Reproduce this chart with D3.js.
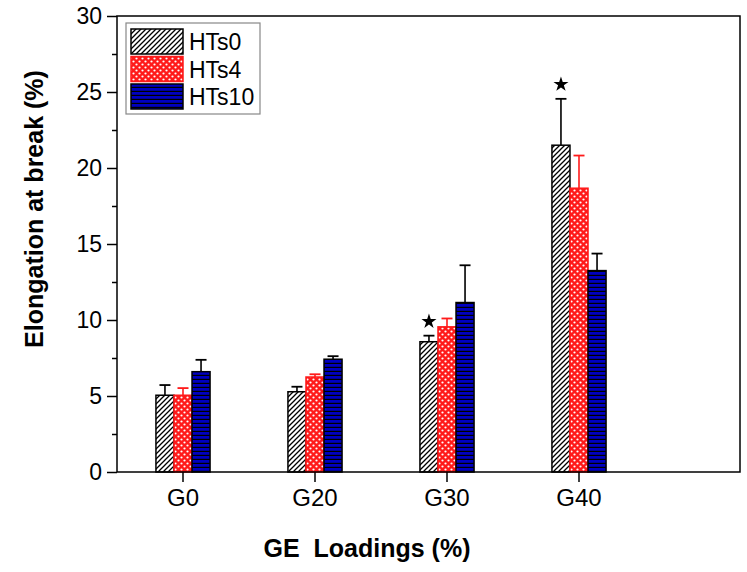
<!DOCTYPE html>
<html>
<head>
<meta charset="utf-8">
<script src="https://cdn.jsdelivr.net/npm/d3@7"></script>
<style>
body { margin: 0; background: #fff; }
svg { display: block; font-family: "Liberation Sans", Arial, sans-serif; }
</style>
</head>
<body>
<svg id="chart" width="747" height="572"></svg>
<script>
const categories = ["G0", "G20", "G30", "G40"];
const seriesNames = ["HTs0", "HTs4", "HTs10"];
const HTs0 = [5.05, 5.28, 8.57, 21.5];
const HTs0Err = [0.67, 0.33, 0.4, 3.05];
const HTs4 = [5.05, 6.25, 9.55, 18.67];
const HTs4Err = [0.47, 0.18, 0.55, 2.15];
const HTs10 = [6.6, 7.42, 11.15, 13.25];
const HTs10Err = [0.78, 0.2, 2.45, 1.12];
const yTicks = [0, 5, 10, 15, 20, 25, 30];
const starMarks = [{cat: "G30", series: "HTs0", value: 9.9}, {cat: "G40", series: "HTs0", value: 25.5}];

const values = {HTs0, HTs4, HTs10};
const errors = {HTs0: HTs0Err, HTs4: HTs4Err, HTs10: HTs10Err};

const svg = d3.select("#chart");
const L = 117, R = 740, T = 16, B = 472;

const x0 = d3.scaleBand().domain(categories).range([L, L + 4 * 132])
  .paddingInner(0.59).paddingOuter(0.295);
const x1 = d3.scaleBand().domain(seriesNames).range([0, x0.bandwidth()]);
const y = d3.scaleLinear().domain([0, 30]).range([B, T]);

// patterns
const defs = svg.append("defs");
const ph = defs.append("pattern").attr("id", "p-HTs0").attr("patternUnits", "userSpaceOnUse")
  .attr("width", 5).attr("height", 5);
ph.append("rect").attr("width", 5).attr("height", 5).attr("fill", "#fff");
ph.append("path").attr("d", "M-1,1 l2,-2 M0,5 l5,-5 M4,6 l2,-2")
  .attr("stroke", "#000").attr("stroke-width", 1.3);

const pd = defs.append("pattern").attr("id", "p-HTs4").attr("patternUnits", "userSpaceOnUse")
  .attr("width", 6).attr("height", 6);
pd.append("rect").attr("width", 6).attr("height", 6).attr("fill", "#ff1a1a");
pd.append("circle").attr("cx", 1.5).attr("cy", 1.5).attr("r", 1.1).attr("fill", "#fff");
pd.append("circle").attr("cx", 4.5).attr("cy", 4.5).attr("r", 1.1).attr("fill", "#fff");

const pl = defs.append("pattern").attr("id", "p-HTs10").attr("patternUnits", "userSpaceOnUse")
  .attr("width", 6).attr("height", 4);
pl.append("rect").attr("width", 6).attr("height", 4).attr("fill", "#0000c0");
pl.append("rect").attr("y", 2.8).attr("width", 6).attr("height", 1.2).attr("fill", "#000");

const strokeCol = {HTs0: "#000", HTs4: "#ff1a1a", HTs10: "#000"};
const errCol = {HTs0: "#000", HTs4: "#ff1a1a", HTs10: "#000"};

const rows = [];
categories.forEach((c, i) => seriesNames.forEach(s => rows.push({cat: c, s, v: values[s][i], e: errors[s][i]})));

// error bars (behind bars)
const eg = svg.append("g");
rows.forEach(d => {
  const cx = x0(d.cat) + x1(d.s) + x1.bandwidth() / 2;
  eg.append("line").attr("x1", cx).attr("x2", cx).attr("y1", y(d.v)).attr("y2", y(d.v + d.e))
    .attr("stroke", errCol[d.s]).attr("stroke-width", 1.6);
  eg.append("line").attr("x1", cx - 5.5).attr("x2", cx + 5.5).attr("y1", y(d.v + d.e)).attr("y2", y(d.v + d.e))
    .attr("stroke", errCol[d.s]).attr("stroke-width", 1.8);
});

svg.append("g").selectAll("rect").data(rows).join("rect")
  .attr("x", d => x0(d.cat) + x1(d.s))
  .attr("y", d => y(d.v))
  .attr("width", x1.bandwidth())
  .attr("height", d => y(0) - y(d.v))
  .attr("fill", d => `url(#p-${d.s})`)
  .attr("stroke", d => strokeCol[d.s])
  .attr("stroke-width", 1.5);

// stars
svg.append("g").selectAll("path").data(starMarks).join("path")
  .attr("d", d3.symbol().type(d3.symbolStar).size(70))
  .attr("transform", d => `translate(${x0(d.cat) + x1(d.series) + x1.bandwidth() / 2},${y(d.value)})`)
  .attr("fill", "#000");

// frame
svg.append("rect").attr("x", L).attr("y", T).attr("width", R - L).attr("height", B - T)
  .attr("fill", "none").attr("stroke", "#000").attr("stroke-width", 1.5);

// y axis
const yAxis = svg.append("g").attr("transform", `translate(${L},0)`)
  .call(d3.axisLeft(y).tickValues(yTicks).tickSize(10).tickPadding(5).tickFormat(d3.format("d")));
yAxis.select(".domain").remove();
yAxis.selectAll("line").attr("stroke-width", 1.5);
yAxis.selectAll("text").attr("font-size", 23).attr("fill", "#000").attr("font-family", "Liberation Sans, Arial, sans-serif");
const minor = svg.append("g").attr("transform", `translate(${L},0)`)
  .call(d3.axisLeft(y).tickValues(d3.range(2.5, 30, 5)).tickSize(5).tickFormat(""));
minor.select(".domain").remove();
minor.selectAll("line").attr("stroke-width", 1.5);

// x axis
const xAxis = svg.append("g").attr("transform", `translate(0,${B})`)
  .call(d3.axisBottom(x0).tickSize(10).tickPadding(7));
xAxis.select(".domain").remove();
xAxis.selectAll("line").attr("stroke-width", 1.5);
xAxis.selectAll("text").attr("font-size", 24).attr("fill", "#000").attr("font-family", "Liberation Sans, Arial, sans-serif");

// titles
svg.append("text").attr("x", 367).attr("y", 557).attr("text-anchor", "middle")
  .attr("font-size", 25).attr("font-weight", "bold")
  .style("white-space", "pre").text("GE  Loadings (%)");
svg.append("text").attr("transform", "translate(43,209) rotate(-90)").attr("text-anchor", "middle")
  .attr("font-size", 25).attr("font-weight", "bold").text("Elongation at break (%)");

// legend
const lg = svg.append("g");
lg.append("rect").attr("x", 126).attr("y", 23).attr("width", 134).attr("height", 91)
  .attr("fill", "#fff").attr("stroke", "#888").attr("stroke-width", 1.2);
seriesNames.forEach((s, i) => {
  const yy = 29 + i * 27.5;
  lg.append("rect").attr("x", 131).attr("y", yy).attr("width", 52).attr("height", 25)
    .attr("fill", `url(#p-${s})`).attr("stroke", strokeCol[s]).attr("stroke-width", 1.5);
  lg.append("text").attr("x", 189).attr("y", yy + 21).attr("font-size", 23).attr("fill", "#000").text(s);
});
</script>
</body>
</html>
